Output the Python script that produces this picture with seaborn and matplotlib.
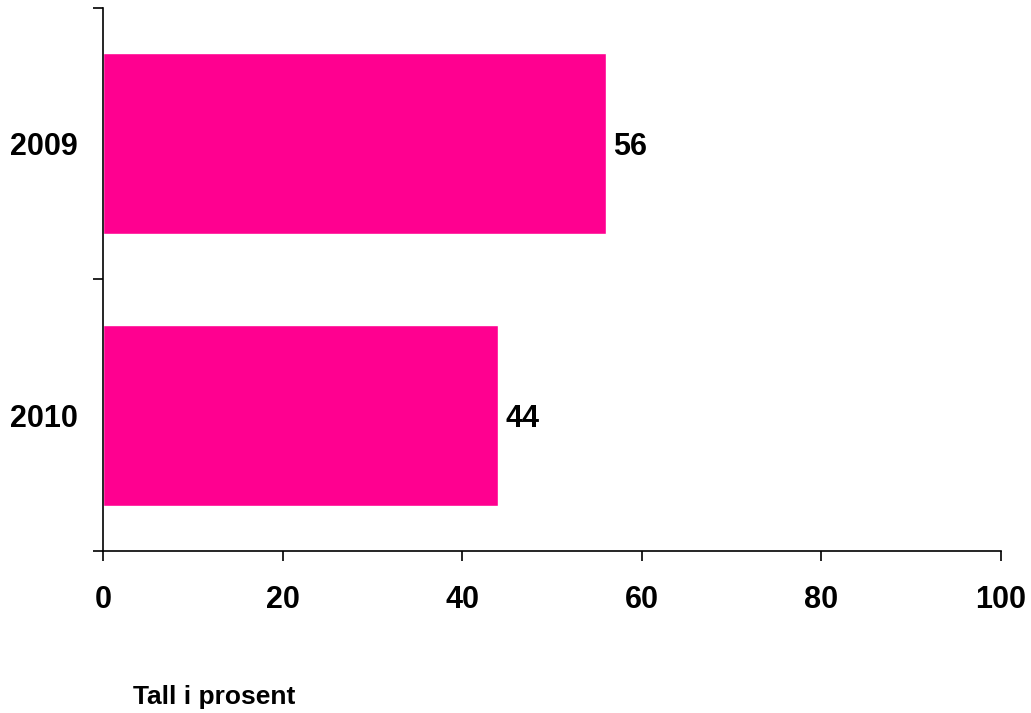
import matplotlib
matplotlib.use('Agg')
import matplotlib.pyplot as plt
import seaborn as sns
import pandas as pd

years = ['2009', '2010']
values = [56, 44]

sns.set_style('white')
plt.rcParams['font.family'] = ['Liberation Sans', 'DejaVu Sans']
plt.rcParams['text.color'] = 'black'
plt.rcParams['xtick.color'] = 'black'
plt.rcParams['ytick.color'] = 'black'

df = pd.DataFrame({'year': years, 'value': values})

fig = plt.figure(figsize=(10.31, 7.13), dpi=100)
ax = fig.add_axes([0.0999, 0.2272, 0.8710, 0.7616])

sns.barplot(data=df, x='value', y='year', orient='h', color='#FF0090',
            saturation=1, width=0.667, ax=ax)

for i, v in enumerate(values):
    ax.text(v + 0.8, i, str(v), va='center_baseline', ha='left', fontsize=22,
            fontweight='bold', color='black')

ax.set_xlim(0, 100)
ax.set_ylim(1.5, -0.5)
ax.set_xticks([0, 20, 40, 60, 80, 100])
ax.set_xticklabels(['0', '20', '40', '60', '80', '100'], fontsize=22, fontweight='bold')
ax.set_yticks([0, 1])
ax.set_yticklabels(years, fontsize=22, fontweight='bold')
ax.set_yticks([-0.5, 0.5, 1.5], minor=True)
ax.tick_params(axis='y', which='major', length=0, pad=18)
ax.tick_params(axis='y', which='minor', length=7.2, width=1.2, color='black', direction='out', left=True)
ax.tick_params(axis='x', which='major', length=7.2, width=1.2, color='black', direction='out', bottom=True, pad=17)
ax.set_xlabel('')
ax.set_ylabel('')

for side in ['top', 'right']:
    ax.spines[side].set_visible(False)
for side in ['left', 'bottom']:
    ax.spines[side].set_color('black')
    ax.spines[side].set_linewidth(1.2)

fig.text(133 / 1031, 1 - 697 / 713, 'Tall i prosent', fontsize=19, fontweight='bold',
         va='center', ha='left', color='black')

fig.savefig('out.png', dpi=100)
